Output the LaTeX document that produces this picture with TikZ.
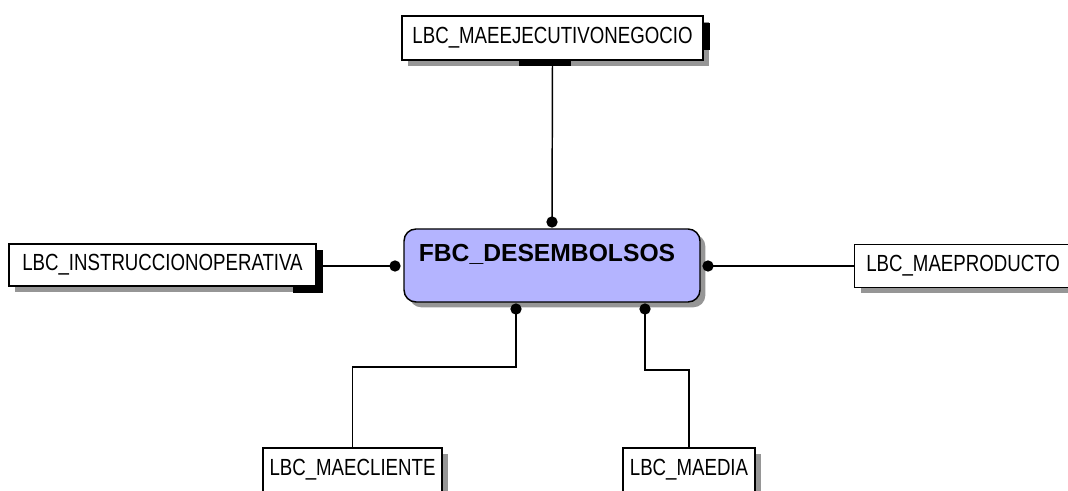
\documentclass[tikz,border=0pt]{standalone}
\usepackage{fontspec}
\setmainfont{Liberation Sans}[FakeStretch=0.8]
\newfontfamily\titlefont{Liberation Sans}
\usetikzlibrary{shadows}
\definecolor{tablefill}{RGB}{180,180,255}
\definecolor{shadowgray}{RGB}{150,150,150}

\begin{document}
\begin{tikzpicture}[x=0.75pt, y=-0.75pt,
        tbl/.style={draw, line width=1.1pt, fill=white, inner sep=0pt, font=\fontsize{17.5}{20}\selectfont,
            drop shadow={shadow xshift=4.5pt, shadow yshift=-4.5pt, opacity=1, fill=shadowgray}},
        fact/.style={draw, line width=1.1pt, fill=tablefill, rounded corners=9pt, inner sep=0pt,
            drop shadow={shadow xshift=4pt, shadow yshift=-4pt, opacity=1, fill=shadowgray}},
        link/.style={line width=1.1pt},
        joint/.style={circle, fill=black, inner sep=0pt, minimum size=8.5pt}]
        \useasboundingbox (0, 0) rectangle (1068, 491);

        % tables
        \node[tbl, minimum width=225.75pt, minimum height=33pt] (eje) at (552.5, 38) {LBC\_MAEEJECUTIVONEGOCIO};
        \node[tbl, minimum width=230.25pt, minimum height=31.5pt] (instr) at (162.5, 265) {LBC\_INSTRUCCIONOPERATIVA};
        \node[tbl, anchor=west, minimum width=250pt, minimum height=32.25pt] (prod) at (854, 266) {};
        \node[anchor=west, inner sep=0pt, font=\fontsize{17.5}{20}\selectfont] (prodname) at (866, 266) {LBC\_MAEPRODUCTO};
        \node[tbl, minimum width=134.25pt, minimum height=33pt] (cli) at (352.5, 470) {LBC\_MAECLIENTE};
        \node[tbl, minimum width=99pt, minimum height=33pt] (dia) at (689, 470) {LBC\_MAEDIA};

        % hidden tables behind
        \fill[black] (519, 60) rectangle (571, 66);
        \fill[black] (703, 23) rectangle (710, 50);
        \fill[black] (316, 250) rectangle (323, 293);
        \fill[black] (293, 286) rectangle (323, 293);

        \node[fact, minimum width=222pt, minimum height=54.75pt] (desem) at (552, 265.5) {};
        \node[font=\titlefont\bfseries\fontsize{18.5}{22}\selectfont, inner sep=0pt] (title) at (547, 254) {FBC\_DESEMBOLSOS};

        \coordinate (dt) at (552, 222);
        \coordinate (dl) at (395, 266);
        \coordinate (dr) at (708, 266);
        \coordinate (dbl) at (516, 309);
        \coordinate (dbr) at (645, 309);

        \draw[link] (dt) -- (eje.south);
        \draw[link] (dl) -- (dl -| 323, 0);
        \draw[link] (dr) -- (prod.west);
        \draw[link] (dbl) -- ++(0, 58) -| (cli.north);
        \draw[link] (dbr) -- ++(0, 61) -| (dia.north);

        \foreach \d in {dt, dl, dr, dbl, dbr}
            \node[joint] at (\d) {};
    \end{tikzpicture}
\end{document}
